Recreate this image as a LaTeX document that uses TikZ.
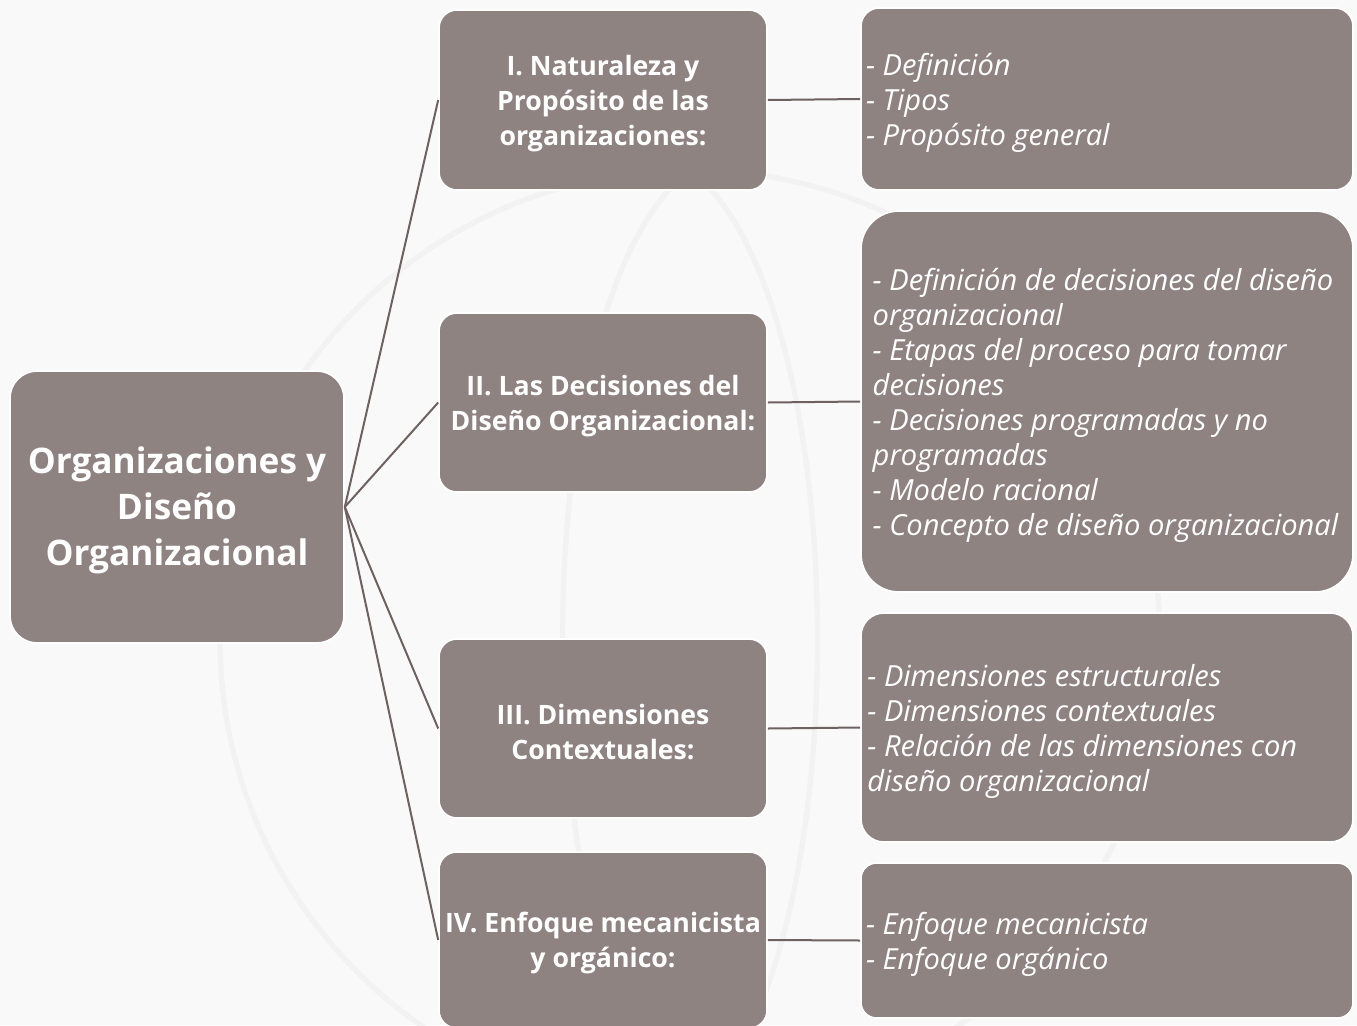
\documentclass[tikz,border=0pt]{standalone}
\usepackage{fontspec}
\setmainfont{Open Sans}
\definecolor{cardfill}{HTML}{8F8382}
\definecolor{linkcol}{HTML}{6E6161}
\definecolor{pagebg}{HTML}{F9F9F9}
\definecolor{markcol}{HTML}{F2F2F2}

\tikzset{every picture/.style={line width=0.75pt}}
\tikzset{
  card/.style 2 args={rectangle, rounded corners=#2*0.075pt, fill=cardfill, draw=white, line width=1.2pt,
    minimum width=#1*0.75pt, minimum height=#2*0.75pt, inner sep=0pt},
  roottext/.style={font=\fontsize{26.4}{34.5}\selectfont\bfseries, align=center, text=white, inner sep=0pt},
  topictext/.style={font=\fontsize{20}{26.25}\selectfont\bfseries, align=center, text=white, inner sep=0pt},
  detailtext/.style={font=\fontsize{21.8}{26.25}\selectfont\itshape, align=left, text=white, inner sep=0pt, anchor=west},
  link/.style={draw=linkcol, line width=1.5pt},
}

\begin{document}
\begin{tikzpicture}[x=0.75pt,y=0.75pt,yscale=-1,xscale=1]
    \useasboundingbox (0,0) rectangle (1357,1025);
    \fill[pagebg] (0,0) rectangle (1357,1025);
    % faint globe watermark
    \draw[markcol, line width=4pt] (690,640) circle (470);
    \draw[markcol, line width=4pt] (690,170) .. controls (520,300) and (520,980) .. (690,1110);
    \draw[markcol, line width=4pt] (690,170) .. controls (860,300) and (860,980) .. (690,1110);

    % root
    \node[card={334}{272}] (root) at (177,507) {};
    \node[roottext] (roottxt) at ([yshift=2.6pt]root.center) {Organizaciones y\\Diseño\\Organizacional};

    % topics
    \node[card={328}{180}] (t1) at (603,100) {};
    \node[card={328}{179}] (t2) at (603,402.5) {};
    \node[card={328}{179}] (t3) at (603,728.5) {};
    \node[card={328}{176}] (t4) at (603,940) {};
    \node[topictext] (t1text) at ([yshift=2.6pt]t1.center) {I. Naturaleza y\\Propósito de las\\organizaciones:};
    \node[topictext] (t2text) at ([yshift=2.6pt]t2.center) {II. Las Decisiones del\\Diseño Organizacional:};
    \node[topictext] (t3text) at ([yshift=2.6pt]t3.center) {III. Dimensiones\\Contextuales:};
    \node[topictext] (t4text) at ([yshift=2.6pt]t4.center) {IV. Enfoque mecanicista\\y orgánico:};

    % details
    \node[card={492}{182}] (d1) at (1107,99) {};
    \node[card={492}{381}] (d2) at (1107,401.5) {};
    \node[card={492}{229}] (d3) at (1107,727.5) {};
    \node[card={492}{155}] (d4) at (1107,940.5) {};
    \node[detailtext] (d1text) at ([xshift=4pt,yshift=2.6pt]d1.west) {- Definición\\- Tipos\\- Propósito general};
    \node[detailtext] (d2text) at ([xshift=9pt,yshift=2.6pt]d2.west) {- Definición de decisiones del diseño\\organizacional\\- Etapas del proceso para tomar\\decisiones\\- Decisiones programadas y no\\programadas\\- Modelo racional\\- Concepto de diseño organizacional};
    \node[detailtext] (d3text) at ([xshift=5pt,yshift=2.6pt]d3.west) {- Dimensiones estructurales\\- Dimensiones contextuales\\- Relación de las dimensiones con\\diseño organizacional};
    \node[detailtext] (d4text) at ([xshift=4pt,yshift=2.6pt]d4.west) {- Enfoque mecanicista\\- Enfoque orgánico};

    % connectors
    \foreach \n in {1,2,3,4} {
      \draw[link] (root.east) -- (t\n.west);
      \draw[link] (t\n.east) -- (d\n.west);
    }
\end{tikzpicture}
\end{document}
